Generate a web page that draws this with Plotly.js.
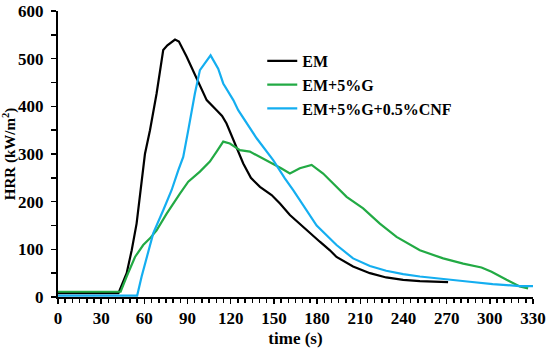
<!DOCTYPE html>
<html><head><meta charset="utf-8">
<script src="https://cdn.plot.ly/plotly-3.0.1.min.js"></script>
<style>html,body{margin:0;padding:0;background:#fff}#c{width:550px;height:351px}</style>
</head><body><div id="c"></div>
<script>
var emT = [0, 42, 47.7, 51.2, 54.6, 58.1, 60.4, 63.9, 68.5, 73.1, 76, 81.3, 84, 89.4, 96.3, 103.3, 110.2, 114, 117.1, 121.8, 128.7, 134, 140.3, 148.4, 154.2, 161.1, 168, 175, 181.9, 188.9, 193.5, 205, 216.7, 228, 239.8, 251.4, 262, 271];
var emV = [8, 8, 50, 98, 154, 238, 300, 350, 427, 518, 528, 540, 536, 504, 458, 413, 392, 380, 364, 329, 280, 250, 231, 214, 196, 172, 153, 134, 116, 98, 84, 64, 50, 41, 36, 33.5, 32, 31];

var gT = [0, 43.5, 47.7, 53.5, 59.2, 63.9, 68.5, 75.5, 84.7, 90.5, 98.6, 105.5, 110.2, 114.8, 119.4, 126.4, 133.3, 140.3, 149.5, 155, 161.1, 168, 176.2, 184.2, 188.9, 200.5, 212, 223.6, 235.2, 251.4, 267.6, 281.5, 294.2, 301.2, 311.6, 320.8, 326.6];
var gV = [11, 11, 43, 84, 109, 123, 140, 175, 217, 242, 263, 284, 305, 326, 322, 308, 305, 294, 279, 270, 259, 270, 277, 259, 245, 210, 186, 154, 126, 98, 81, 70, 62, 53, 36, 22, 18];

var bT = [0, 55, 58.1, 61.6, 66.2, 73.1, 78.9, 83.6, 87, 90.5, 95.1, 98.6, 102.8, 106, 111.3, 114.8, 121.8, 125.2, 138, 149.5, 157.6, 163.4, 179.7, 188.9, 193.5, 205, 216.7, 228, 239.8, 251.4, 271, 286, 302, 320.8, 330];
var bV = [3, 3, 43, 84, 134, 182, 224, 266, 294, 350, 427, 476, 493, 507, 479, 448, 413, 392, 333, 287, 249, 224, 150, 123, 109, 81, 65, 55, 48, 43, 36, 32, 27, 23, 23];

var names = ['EM', 'EM+5%G', 'EM+5%G+0.5%CNF'];
var xTickVals = [0, 30, 60, 90, 120, 150, 180, 210, 240, 270, 300, 330];
var yTickVals = [0, 100, 200, 300, 400, 500, 600];

var fam = '"Liberation Serif", "Times New Roman", serif';
function tr(x, y, n, c) {
  return {x: x, y: y, name: n, type: 'scatter', mode: 'lines', line: {color: c, width: 2.2}};
}
var data = [tr(emT, emV, names[0], '#000000'), tr(gT, gV, names[1], '#22aa44'), tr(bT, bV, names[2], '#14aef0')];

var layout = {
  width: 550, height: 351,
  margin: {l: 58, r: 17, t: 11, b: 54},
  paper_bgcolor: '#fff', plot_bgcolor: '#fff',
  showlegend: true,
  legend: {x: 0.43, y: 0.885, xanchor: 'left', yanchor: 'top', bgcolor: 'rgba(0,0,0,0)',
    font: {family: fam, size: 16, color: '#000', weight: 'bold'}, tracegroupgap: 0},
  xaxis: {
    range: [0, 330], tickvals: xTickVals, ticktext: xTickVals.map(String),
    showgrid: false, zeroline: false, showline: true, linecolor: '#000', linewidth: 2,
    ticks: 'outside', ticklen: 5, tickwidth: 1.5, tickcolor: '#000',
    minor: {dtick: 5, tick0: 0, ticks: 'outside', ticklen: 4, tickwidth: 1.5, tickcolor: '#000', showgrid: false},
    tickfont: {family: fam, size: 17, color: '#000', weight: 'bold'},
    title: {text: 'time (s)', font: {family: fam, size: 17, color: '#000', weight: 'bold'}, standoff: 5}
  },
  yaxis: {
    range: [0, 600], tickvals: yTickVals, ticktext: yTickVals.map(String),
    showgrid: false, zeroline: false, showline: true, linecolor: '#000', linewidth: 2,
    ticks: 'outside', ticklen: 5, tickwidth: 1.5, tickcolor: '#000', ticklabelstandoff: 4,
    minor: {dtick: 50, tick0: 0, ticks: 'outside', ticklen: 5, tickwidth: 1.5, tickcolor: '#000', showgrid: false},
    tickfont: {family: fam, size: 17, color: '#000', weight: 'bold'},
    title: {text: 'HRR (kW/m<sup>2</sup>)', font: {family: fam, size: 15, color: '#000', weight: 'bold'}, standoff: 4}
  }
};
Plotly.newPlot('c', data, layout, {displayModeBar: false, staticPlot: true});
</script></body></html>
